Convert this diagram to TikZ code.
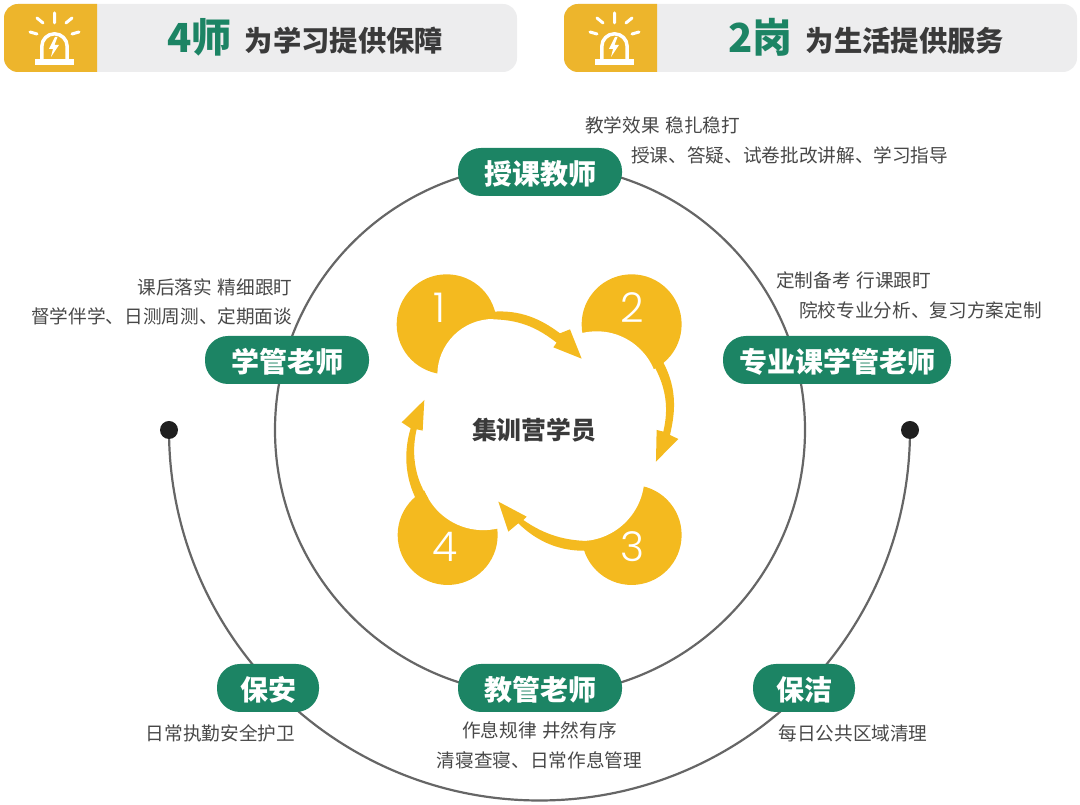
\documentclass[tikz,border=0pt]{standalone}
\usepackage{fontspec}
\setmainfont{Noto Sans CJK SC}
\newfontfamily\numfont[UprightFont=* Light]{Poppins}
\usetikzlibrary{arrows.meta,positioning}
\definecolor{hdryellow}{HTML}{EDB52C}
\definecolor{bubyellow}{HTML}{F4BA1F}
\definecolor{pillgreen}{HTML}{1C8464}
\definecolor{hdrgray}{HTML}{EDEDEE}
\definecolor{inktext}{HTML}{3A3A3A}
\definecolor{notetext}{HTML}{484848}
\definecolor{ringline}{HTML}{666666}

\begin{document}
\begin{tikzpicture}[
  x=1pt,y=1pt,
  hdr/.style={anchor=west,inner sep=0pt,text=inktext,font=\fontsize{28.3}{28.3}\selectfont\bfseries},
  hdrnum/.style={anchor=west,inner sep=0pt,text=pillgreen,font=\fontsize{40}{40}\selectfont\bfseries},
  pill/.style={fill=pillgreen,text=white,rounded corners=23pt,minimum height=48pt,inner sep=0pt,text height=26pt,text depth=1pt,font=\fontsize{28}{28}\selectfont\bfseries},
  note/.style={inner sep=0pt,text=notetext,font=\fontsize{18.65}{18.65}\selectfont},
  ring/.style={draw=ringline,line width=2.2pt},
  bub/.style={circle,fill=bubyellow,minimum size=100pt,inner sep=0pt},
  num/.style={text=white,inner sep=0pt,font=\fontsize{41}{41}\selectfont\numfont},
  dot/.style={circle,fill=black!88,minimum size=18pt,inner sep=0pt},
  lamp/.pic={
    \draw[white,line width=3.5pt,line cap=round] (-12.7,0) -- ++(0,15.5) arc[start angle=180,end angle=0,radius=12.7] -- ++(0,-15.5);
    \fill[white] (-19.5,-3) rectangle (19.5,2.5);
    \fill[white] (0.5,25) -- (-5.5,13) -- (-1.5,13) -- (-3.5,5) -- (4.5,17) -- (0,17) -- (3,25) -- cycle;
    \draw[white,line width=3pt,line cap=round]
      (0,39) -- (0,49) (-11.5,39) -- (-17.5,44) (11.5,39) -- (17.5,44) (-17.5,28) -- (-24.5,30) (17.5,28) -- (24.5,30);
  }
]
\useasboundingbox (0,0) rectangle (1080,805);
% Header bars
\node[fill=hdrgray,rounded corners=14pt,minimum width=513pt,minimum height=68pt,inner sep=0pt] (bar4) at (260.5,767) {};
\node[fill=hdrgray,rounded corners=14pt,minimum width=513pt,minimum height=68pt,inner sep=0pt] (bar2) at (820.5,767) {};
\fill[hdryellow] (97,801) [rounded corners=14pt] -- (4,801) -- (4,733) [sharp corners] -- (97,733) -- cycle;
\fill[hdryellow] (657,801) [rounded corners=14pt] -- (564,801) -- (564,733) [sharp corners] -- (657,733) -- cycle;
\pic at (54.5,743) {lamp};
\pic at (614.5,743) {lamp};
\node[hdrnum] (t4) at (167,768) {4师};
\node[hdr,right=13pt of t4.east,anchor=west,yshift=-3.5pt] (s4) {为学习提供保障};
\node[hdrnum] (t2) at (728,768) {2岗};
\node[hdr,right=13pt of t2.east,anchor=west,yshift=-3.5pt] (s2) {为生活提供服务};

% Rings
\node[circle,ring,minimum size=530pt,inner sep=0pt] (bigring) at (540,375) {};
\coordinate (arcl) at (169,375);
\draw[ring] (arcl) arc[start angle=180,end angle=360,radius=370.5pt] coordinate (arcr);
\node[dot] (dotl) at (arcl) {};
\node[dot] (dotr) at (arcr) {};

% Bubbles and arrows
\begin{scope}[shift={(380,545)},x=0.3333pt,y=-0.3333pt]
\node[bub] (c1) at (200,193) {};
\node[bub] (c2) at (755,193) {};
\node[bub] (c3) at (755,825) {};
\node[bub] (c4) at (203,825) {};
\fill[white] (340,345) circle[radius=56pt];
\fill[white] (650,400) circle[radius=62pt];
\fill[white] (600,650) circle[radius=64.5pt];
\fill[white] (310,620) circle[radius=63.5pt];
\fill[bubyellow] (340,155) .. controls (420,150) and (480,175) .. (540,220) -- (570,208) -- (605,296) -- (520,262) -- (530,248) .. controls (480,210) and (430,180) .. (340,178) -- cycle;
\fill[bubyellow] (840,290) .. controls (892,375) and (888,450) .. (870,525) -- (895,537) -- (828,605) -- (830,510) -- (850,515) .. controls (868,440) and (860,360) .. (790,270) -- cycle;
\fill[bubyellow] (625,872) .. controls (540,876) and (470,844) .. (415,790) -- (385,815) -- (355,725) -- (440,770) -- (430,780) .. controls (480,815) and (540,842) .. (625,843) -- cycle;
\fill[bubyellow] (112,725) .. controls (72,650) and (72,570) .. (92,505) -- (65,487) -- (133,420) -- (128,512) -- (110,508) .. controls (95,570) and (100,650) .. (145,715) -- cycle;
\node[num] (n1) at (178,143) {1};
\node[num] (n2) at (757,143) {2};
\node[num] (n3) at (757,860) {3};
\node[num] (n4) at (195,860) {4};
\end{scope}
\node[inner sep=0pt,text=inktext,font=\fontsize{24.8}{24.8}\selectfont\bfseries] (stu) at (534,375) {集训营学员};

% Teachers
\node[pill,minimum width=164pt] (sk) at (540,633) {授课教师};
\node[pill,minimum width=164pt] (xg) at (287,445) {学管老师};
\node[pill,minimum width=228pt] (zy) at (837,445) {专业课学管老师};
\node[pill,minimum width=164pt] (jg) at (540,117) {教管老师};
\node[pill,minimum width=102pt] (ba) at (268,117) {保安};
\node[pill,minimum width=102pt] (bj) at (804,117) {保洁};

% Captions
\node[note,anchor=west] (sk1) at (585,680) {教学效果\hspace{.3em}稳扎稳打};
\node[note,anchor=west] (sk2) at (631,650) {授课、答疑、试卷批改讲解、学习指导};
\node[note,anchor=east] (xg1) at (292.5,518) {课后落实\hspace{.3em}精细跟盯};
\node[note,anchor=east] (xg2) at (292.5,489) {督学伴学、日测周测、定期面谈};
\node[note,anchor=west] (zy1) at (776,525) {定制备考\hspace{.3em}行课跟盯};
\node[note,anchor=west] (zy2) at (799,495) {院校专业分析、复习方案定制};
\node[note] (jg1) at (539.5,75) {作息规律\hspace{.3em}井然有序};
\node[note] (jg2) at (539.5,45) {清寝查寝、日常作息管理};
\node[note] (ba1) at (220.5,72) {日常执勤安全护卫};
\node[note] (bj1) at (853,72) {每日公共区域清理};
\end{tikzpicture}
\end{document}
